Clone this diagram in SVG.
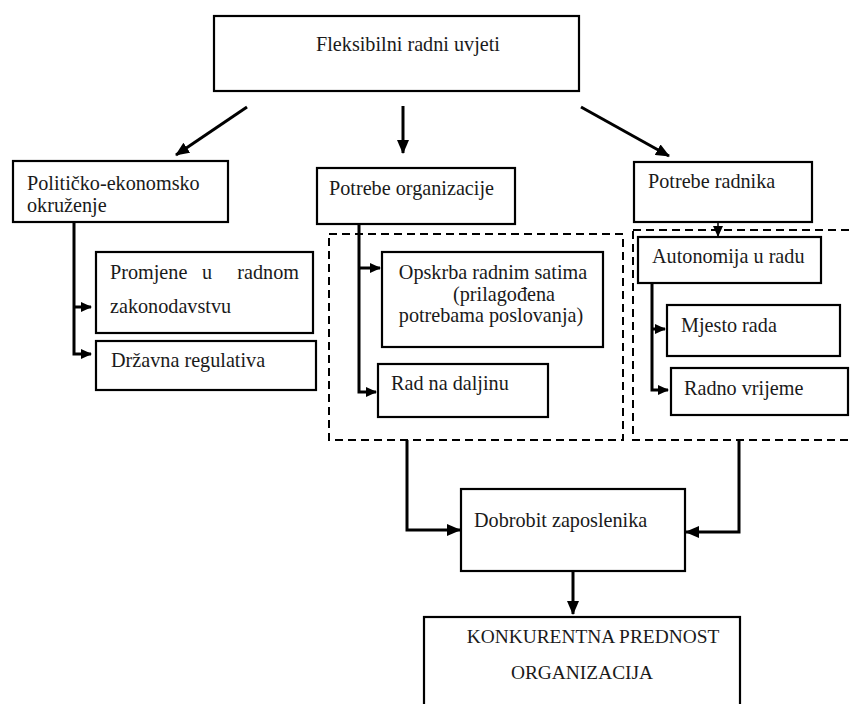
<svg xmlns="http://www.w3.org/2000/svg" width="850" height="704" viewBox="0 0 850 704">
<style>
.box{fill:#fff;stroke:#000;stroke-width:2.2}
.dash{fill:none;stroke:#000;stroke-width:2;stroke-dasharray:8,5}
.ln{fill:none;stroke:#000;stroke-width:3}
.t{font-family:'Liberation Serif','DejaVu Serif',serif;font-size:20.2px;fill:#1a1a1a}
.m{text-anchor:middle}
.k{font-size:19.4px}
</style>
<defs>
<marker id="ah" markerUnits="userSpaceOnUse" markerWidth="14" markerHeight="12" refX="13" refY="6" orient="auto">
<path d="M0,0 L14,6 L0,12 z" fill="#000"/>
</marker>
<marker id="as" markerUnits="userSpaceOnUse" markerWidth="11" markerHeight="10" refX="10" refY="5" orient="auto">
<path d="M0,0 L11,5 L0,10 z" fill="#000"/>
</marker>
</defs>
<rect width="850" height="704" fill="#fff"/>

<g id="connectors">
<line class="ln" x1="247" y1="107" x2="176" y2="155" marker-end="url(#ah)"/>
<line class="ln" x1="403" y1="106" x2="403" y2="153" marker-end="url(#ah)"/>
<line class="ln" x1="581" y1="107" x2="669" y2="156" marker-end="url(#ah)"/>
<line x1="718" y1="222" x2="718" y2="236" stroke="#000" stroke-width="1.5" marker-end="url(#as)"/>
<path class="ln" d="M74,222 V354 H91" marker-end="url(#as)"/>
<path class="ln" d="M74,307 H91" marker-end="url(#as)"/>
<path class="ln" d="M359,224 V392 H376" marker-end="url(#as)"/>
<path class="ln" d="M359,268 H380" marker-end="url(#as)"/>
<path class="ln" d="M652,283 V390 H668" marker-end="url(#as)"/>
<path class="ln" d="M652,329 H665" marker-end="url(#as)"/>
<path class="ln" d="M407,440 V530 H460" marker-end="url(#ah)"/>
<path class="ln" d="M739,441 V532 H686" marker-end="url(#ah)"/>
<line class="ln" x1="573" y1="571" x2="573" y2="614" marker-end="url(#ah)"/>
</g>

<g id="group-organizacija">
<rect class="dash" x="329" y="234" width="294" height="206"/>
</g>
<g id="group-radnika">
<rect class="dash" x="633" y="230" width="230" height="210"/>
</g>

<g font-family="Liberation Serif, DejaVu Serif, serif">
<g id="n-fleksibilni">
<rect class="box" x="214" y="16" width="365" height="75"/>
<text class="t" x="316" y="51">Fleksibilni radni uvjeti</text>
</g>

<g id="n-politicko">
<rect class="box" x="13" y="161" width="215" height="61"/>
<text class="t" x="27" y="190">Političko-ekonomsko</text>
<text class="t" x="27" y="212">okruženje</text>
</g>

<g id="n-potrebe-org">
<rect class="box" x="317" y="168" width="198" height="56"/>
<text class="t" x="329" y="195">Potrebe organizacije</text>
</g>

<g id="n-potrebe-radnika">
<rect class="box" x="634" y="162" width="178" height="60"/>
<text class="t" x="648" y="188">Potrebe radnika</text>
</g>

<g id="n-promjene">
<rect class="box" x="96" y="252" width="217" height="81"/>
<text class="t" y="279"><tspan x="110">Promjene</tspan><tspan x="202">u</tspan><tspan x="299" text-anchor="end">radnom</tspan></text>
<text class="t" x="110" y="313">zakonodavstvu</text>
</g>

<g id="n-drzavna">
<rect class="box" x="96" y="341" width="220" height="49"/>
<text class="t" x="111" y="367">Državna regulativa</text>
</g>

<g id="n-opskrba">
<rect class="box" x="382" y="252" width="221" height="95"/>
<text class="t m" x="493" y="279">Opskrba radnim satima</text>
<text class="t m" x="504" y="301">(prilagođena</text>
<text class="t m" x="491" y="322">potrebama poslovanja)</text>
</g>

<g id="n-rad-daljinu">
<rect class="box" x="378" y="364" width="170" height="53"/>
<text class="t" x="391" y="390">Rad na daljinu</text>
</g>

<g id="n-autonomija">
<rect class="box" x="638" y="237" width="183" height="46"/>
<text class="t" x="652" y="263">Autonomija u radu</text>
</g>

<g id="n-mjesto">
<rect class="box" x="667" y="305" width="173" height="51"/>
<text class="t" x="681" y="332">Mjesto rada</text>
</g>

<g id="n-radno-vrijeme">
<rect class="box" x="671" y="368" width="177" height="47"/>
<text class="t" x="684" y="395">Radno vrijeme</text>
</g>

<g id="n-dobrobit">
<rect class="box" x="461" y="489" width="224" height="82"/>
<text class="t" x="474" y="527">Dobrobit zaposlenika</text>
</g>

<g id="n-konkurentna">
<rect class="box" x="424" y="617" width="316" height="100"/>
<text class="t m k" x="593" y="643">KONKURENTNA PREDNOST</text>
<text class="t m k" x="582" y="679">ORGANIZACIJA</text>
</g>
</g>
</svg>
